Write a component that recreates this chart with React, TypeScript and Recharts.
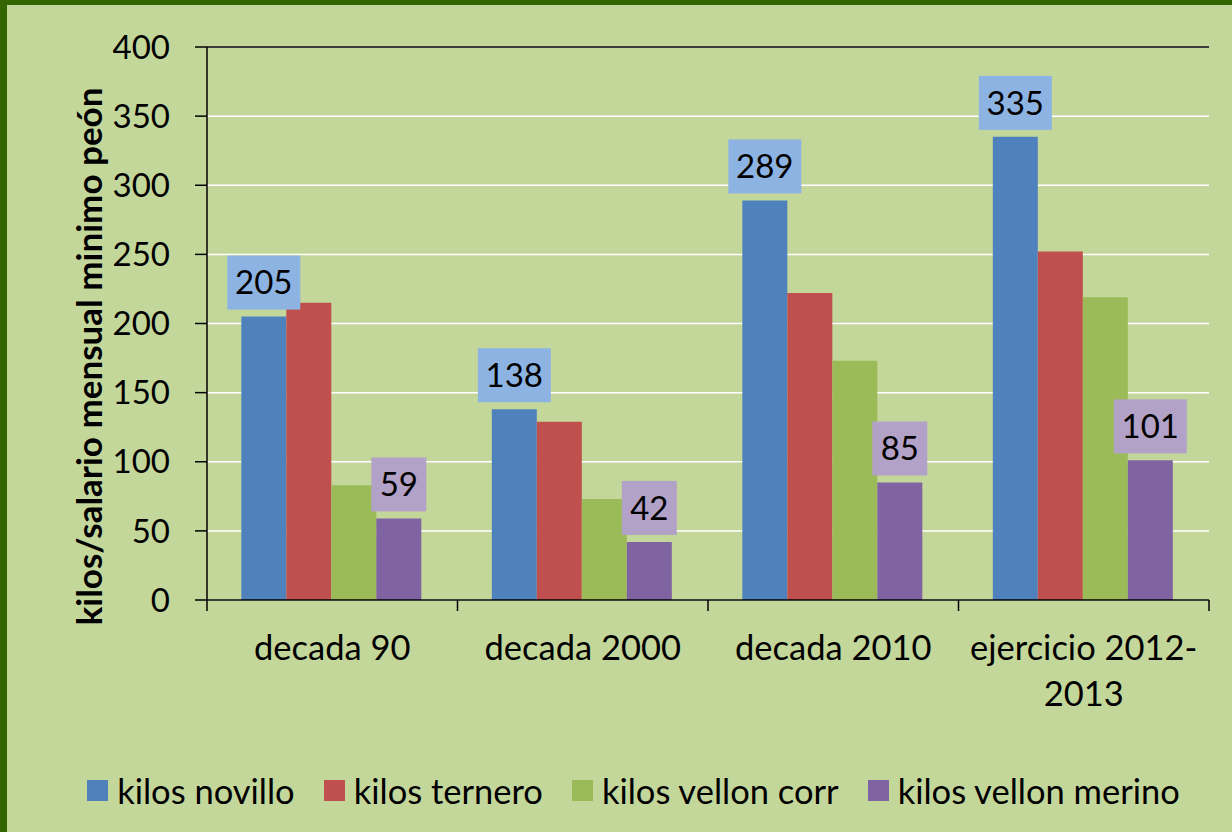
import { BarChart, Bar, XAxis, YAxis, CartesianGrid, ReferenceLine, LabelList } from 'recharts'

const categories = ['decada 90', 'decada 2000', 'decada 2010', 'ejercicio 2012-2013']
const novillo = [205, 138, 289, 335]
const ternero = [215, 129, 222, 252]
const vellonCorr = [83, 73, 173, 219]
const vellonMerino = [59, 42, 85, 101]
const yTicks = [0, 50, 100, 150, 200, 250, 300, 350, 400]
const seriesNames = ['kilos novillo', 'kilos ternero', 'kilos vellon corr', 'kilos vellon merino']
const seriesColors = ['#4f81bd', '#c0504d', '#9bbb59', '#8064a2']

const FONT = 'Lato, "Open Sans", sans-serif'
const W = 1225
const H = 827
const margin = { top: 42, right: 23, bottom: 172, left: 120 }
const Y_AXIS_W = 80
const PLOT_W = W - margin.left - margin.right - Y_AXIS_W
const HALF_BAND = PLOT_W / categories.length / 2

const data = categories.map((c, i) => ({
  cat: c,
  novillo: novillo[i],
  ternero: ternero[i],
  corr: vellonCorr[i],
  merino: vellonMerino[i],
}))

function splitLabel(s: string) {
  const m = s.match(/^(.*-)(.+)$/)
  return m ? [m[1], m[2]] : [s]
}

function XTick(props: any) {
  const { x, y, payload, index } = props
  const lines = splitLabel(String(payload.value))
  return (
    <g>
      <line x1={x - HALF_BAND} x2={x - HALF_BAND} y1={y} y2={y + 11} stroke="#000" strokeWidth={1.5} />
      {index === categories.length - 1 && (
        <line x1={x + HALF_BAND} x2={x + HALF_BAND} y1={y} y2={y + 11} stroke="#000" strokeWidth={1.5} />
      )}
      {lines.map((l, i) => (
        <text key={i} x={x} y={y + 60 + i * 46} textAnchor="middle" fontSize={34.5} fontFamily={FONT} fill="#000">
          {l}
        </text>
      ))}
    </g>
  )
}

function box(cx: number, barTop: number, value: number, fill: string, key: string) {
  const text = String(value)
  const w = text.length * 18 + 19
  const h = 54
  const bottom = barTop - 7
  return (
    <g key={key}>
      <rect x={cx - w / 2} y={bottom - h} width={w} height={h} fill={fill} />
      <text x={cx} y={bottom - h / 2} dy="0.36em" textAnchor="middle" fontSize={33} fontFamily={FONT} fill="#000">
        {text}
      </text>
    </g>
  )
}

// labels drawn with the last series so the boxes sit above every bar
function GroupLabels(props: any) {
  const { x, y, width, height, index } = props
  const bx = Number(x)
  const bw = Number(width)
  const base = Number(y) + Number(height)
  const perUnit = Number(height) / vellonMerino[index]
  const blueTop = base - novillo[index] * perUnit
  return (
    <g>
      {box(bx - 3 * bw + bw / 2, blueTop, novillo[index], '#8db3e2', 'n')}
      {box(bx + bw / 2, Number(y), vellonMerino[index], '#b3a2c7', 'm')}
    </g>
  )
}

function YLabel(props: any) {
  const { viewBox } = props
  const cx = 81
  const cy = viewBox.y + viewBox.height / 2 + 33
  return (
    <text
      x={cx}
      y={cy}
      transform={`rotate(-90 ${cx} ${cy})`}
      textAnchor="middle"
      dominantBaseline="central"
      fontSize={35}
      fontWeight="bold"
      fontFamily={FONT}
      fill="#000"
    >
      kilos/salario mensual minimo peón
    </text>
  )
}

export default function App() {
  return (
    <div style={{ position: 'absolute', left: 0, top: 0, width: 1232, height: 832, background: '#336600' }}>
      <div style={{ position: 'absolute', left: 7, top: 5, width: W, height: H, background: '#c4d79b' }}>
        <BarChart width={W} height={H} data={data} margin={margin} barCategoryGap="13.7%" barGap={0}>
          <CartesianGrid vertical={false} stroke="#ffffff" strokeWidth={1.5} />
          <XAxis
            dataKey="cat"
            axisLine={{ stroke: '#000', strokeWidth: 1.5 }}
            tickLine={false}
            tickSize={0}
            tickMargin={0}
            height={60}
            interval={0}
            tick={<XTick />}
          />
          <YAxis
            domain={[0, 400]}
            ticks={yTicks}
            width={Y_AXIS_W}
            axisLine={{ stroke: '#000', strokeWidth: 1.5 }}
            tickLine={{ stroke: '#000', strokeWidth: 1.5 }}
            tickSize={12}
            tickMargin={25}
            tick={{ fontSize: 33, fontFamily: FONT, fill: '#000' }}
            label={<YLabel />}
          />
          <YAxis
            yAxisId="border"
            orientation="right"
            domain={[0, 400]}
            width={0}
            tick={false}
            tickLine={false}
            axisLine={{ stroke: '#000', strokeWidth: 1.5 }}
          />
          <ReferenceLine y={400} stroke="#000" strokeWidth={1.5} />
          <Bar dataKey="novillo" name={seriesNames[0]} fill={seriesColors[0]} isAnimationActive={false} />
          <Bar dataKey="ternero" name={seriesNames[1]} fill={seriesColors[1]} isAnimationActive={false} />
          <Bar dataKey="corr" name={seriesNames[2]} fill={seriesColors[2]} isAnimationActive={false} />
          <Bar dataKey="merino" name={seriesNames[3]} fill={seriesColors[3]} isAnimationActive={false}>
            <LabelList dataKey="merino" content={<GroupLabels />} />
          </Bar>
        </BarChart>
        <div
          style={{
            position: 'absolute',
            left: 0,
            top: 765,
            width: W,
            paddingLeft: 28,
            boxSizing: 'border-box',
            display: 'flex',
            justifyContent: 'center',
            alignItems: 'center',
            fontFamily: FONT,
            fontSize: 34.5,
            color: '#000',
          }}
        >
          {seriesNames.map((n, i) => (
            <div key={n} style={{ display: 'flex', alignItems: 'center', marginLeft: i === 0 ? 0 : 29 }}>
              <span style={{ width: 21, height: 21, background: seriesColors[i], marginRight: 9, display: 'inline-block' }} />
              <span>{n}</span>
            </div>
          ))}
        </div>
      </div>
    </div>
  )
}
